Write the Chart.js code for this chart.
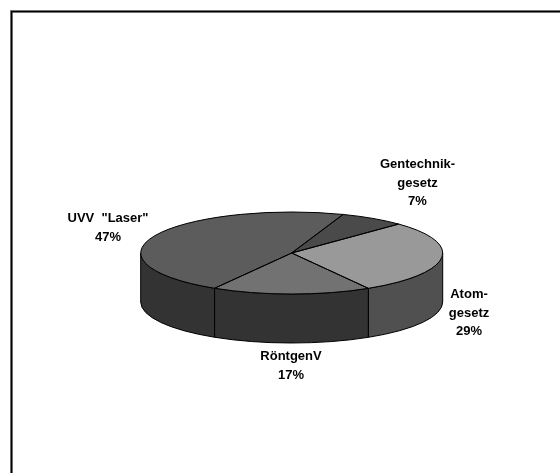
<!DOCTYPE html>
<html>
<head>
<meta charset="utf-8">
<style>
  html, body { margin: 0; background: #fff; }
  canvas { display: block; }
</style>
<script src="https://cdn.jsdelivr.net/npm/chart.js@4"></script>
</head>
<body>
<canvas id="lawChart" width="560" height="473"></canvas>
<script>
// values, in percent
const categories = ['UVV  "Laser"', "Gentechnik-gesetz", "Atom-gesetz", "RöntgenV"];
const shares = [47, 7, 29, 17];

// grey shades of the top face and of the wall below it
const topColors = ["#5c5c5c", "#4a4a4a", "#999999", "#727272"];
const wallColors = ["#333333", "#333333", "#505050", "#333333"];

// label lines and where they sit (centre x, first baseline y)
const labelLines = [['UVV  "Laser"'], ["Gentechnik-", "gesetz"], ["Atom-", "gesetz"], ["RöntgenV"]];
const labelSpots = [[108, 222], [417.5, 168], [469, 298], [291, 360]];

const squash = 41 / 151;  // flattening of the pie
const depth = 49;         // height of the wall

function tiltAt(ctx, arc) {
    ctx.translate(arc.x, arc.y);
    ctx.scale(1, squash);
    ctx.translate(-arc.x, -arc.y);
}

// Fake 3D: squash what the library draws and add a wall under the front half
const tiltPlugin = {
    id: "tilt",
    beforeDatasetsDraw(chart) {
        const ctx = chart.ctx;
        chart.getDatasetMeta(0).data.forEach(function (arc, i) {
            for (let k = -1; k <= 2; k++) {
                const from = Math.max(arc.startAngle, 2 * Math.PI * k);
                const to = Math.min(arc.endAngle, 2 * Math.PI * k + Math.PI);
                if (from >= to) continue;
                const r = arc.outerRadius;
                ctx.save();
                ctx.beginPath();
                tiltAt(ctx, arc);
                ctx.arc(arc.x, arc.y, r, from, to);
                ctx.restore();
                ctx.save();
                ctx.translate(0, depth);
                tiltAt(ctx, arc);
                ctx.arc(arc.x, arc.y, r, to, from, true);
                ctx.restore();
                ctx.closePath();
                ctx.fillStyle = wallColors[i];
                ctx.strokeStyle = "#000";
                ctx.lineWidth = 1;
                ctx.fill();
                ctx.stroke();
            }
        });
    },
    beforeDatasetDraw(chart) {
        const ctx = chart.ctx;
        ctx.save();
        tiltAt(ctx, chart.getDatasetMeta(0).data[0]);
    },
    afterDatasetDraw(chart) {
        chart.ctx.restore();
    },
    afterDatasetsDraw(chart) {
        const ctx = chart.ctx;
        // outlines go on afterwards so the squash does not thin them
        chart.getDatasetMeta(0).data.forEach(function (arc) {
            ctx.save();
            ctx.beginPath();
            tiltAt(ctx, arc);
            ctx.moveTo(arc.x, arc.y);
            ctx.arc(arc.x, arc.y, arc.outerRadius, arc.startAngle, arc.endAngle);
            ctx.closePath();
            ctx.restore();
            ctx.strokeStyle = "#000";
            ctx.lineWidth = 1;
            ctx.lineJoin = "round";
            ctx.stroke();
        });

        // labels
        ctx.save();
        ctx.fillStyle = "#000";
        ctx.font = "bold 13px 'Liberation Sans'";
        ctx.textAlign = "center";
        labelLines.forEach(function (lines, i) {
            const spot = labelSpots[i];
            lines.concat(shares[i] + "%").forEach(function (line, n) {
                ctx.fillText(line, spot[0], spot[1] + n * 18.5);
            });
        });
        ctx.restore();
    },
    beforeDraw(chart) {
        // frame: only the top and left edges show
        const ctx = chart.ctx;
        ctx.save();
        [["#9a9a9a", 3], ["#000", 1.6]].forEach(function (pen) {
            ctx.strokeStyle = pen[0];
            ctx.lineWidth = pen[1];
            ctx.beginPath();
            ctx.moveTo(11.5, 473);
            ctx.lineTo(11.5, 11.5);
            ctx.lineTo(560, 11.5);
            ctx.stroke();
        });
        ctx.restore();
    }
};

const ctx = document.getElementById("lawChart").getContext("2d");
const lawChart = new Chart(ctx, {
    type: "pie",
    data: {
        labels: categories,
        datasets: [{
            data: shares,
            backgroundColor: topColors,
            borderWidth: 0,
        }],
    },
    options: {
        responsive: false,
        animation: false,
        rotation: 210.7,
        events: [],
        layout: { padding: { left: 140.7, right: 117.3, top: 102, bottom: 69 } },
        plugins: {
            legend: { display: false },
            tooltip: { enabled: false },
        },
    },
    plugins: [tiltPlugin],
});
</script>
</body>
</html>
